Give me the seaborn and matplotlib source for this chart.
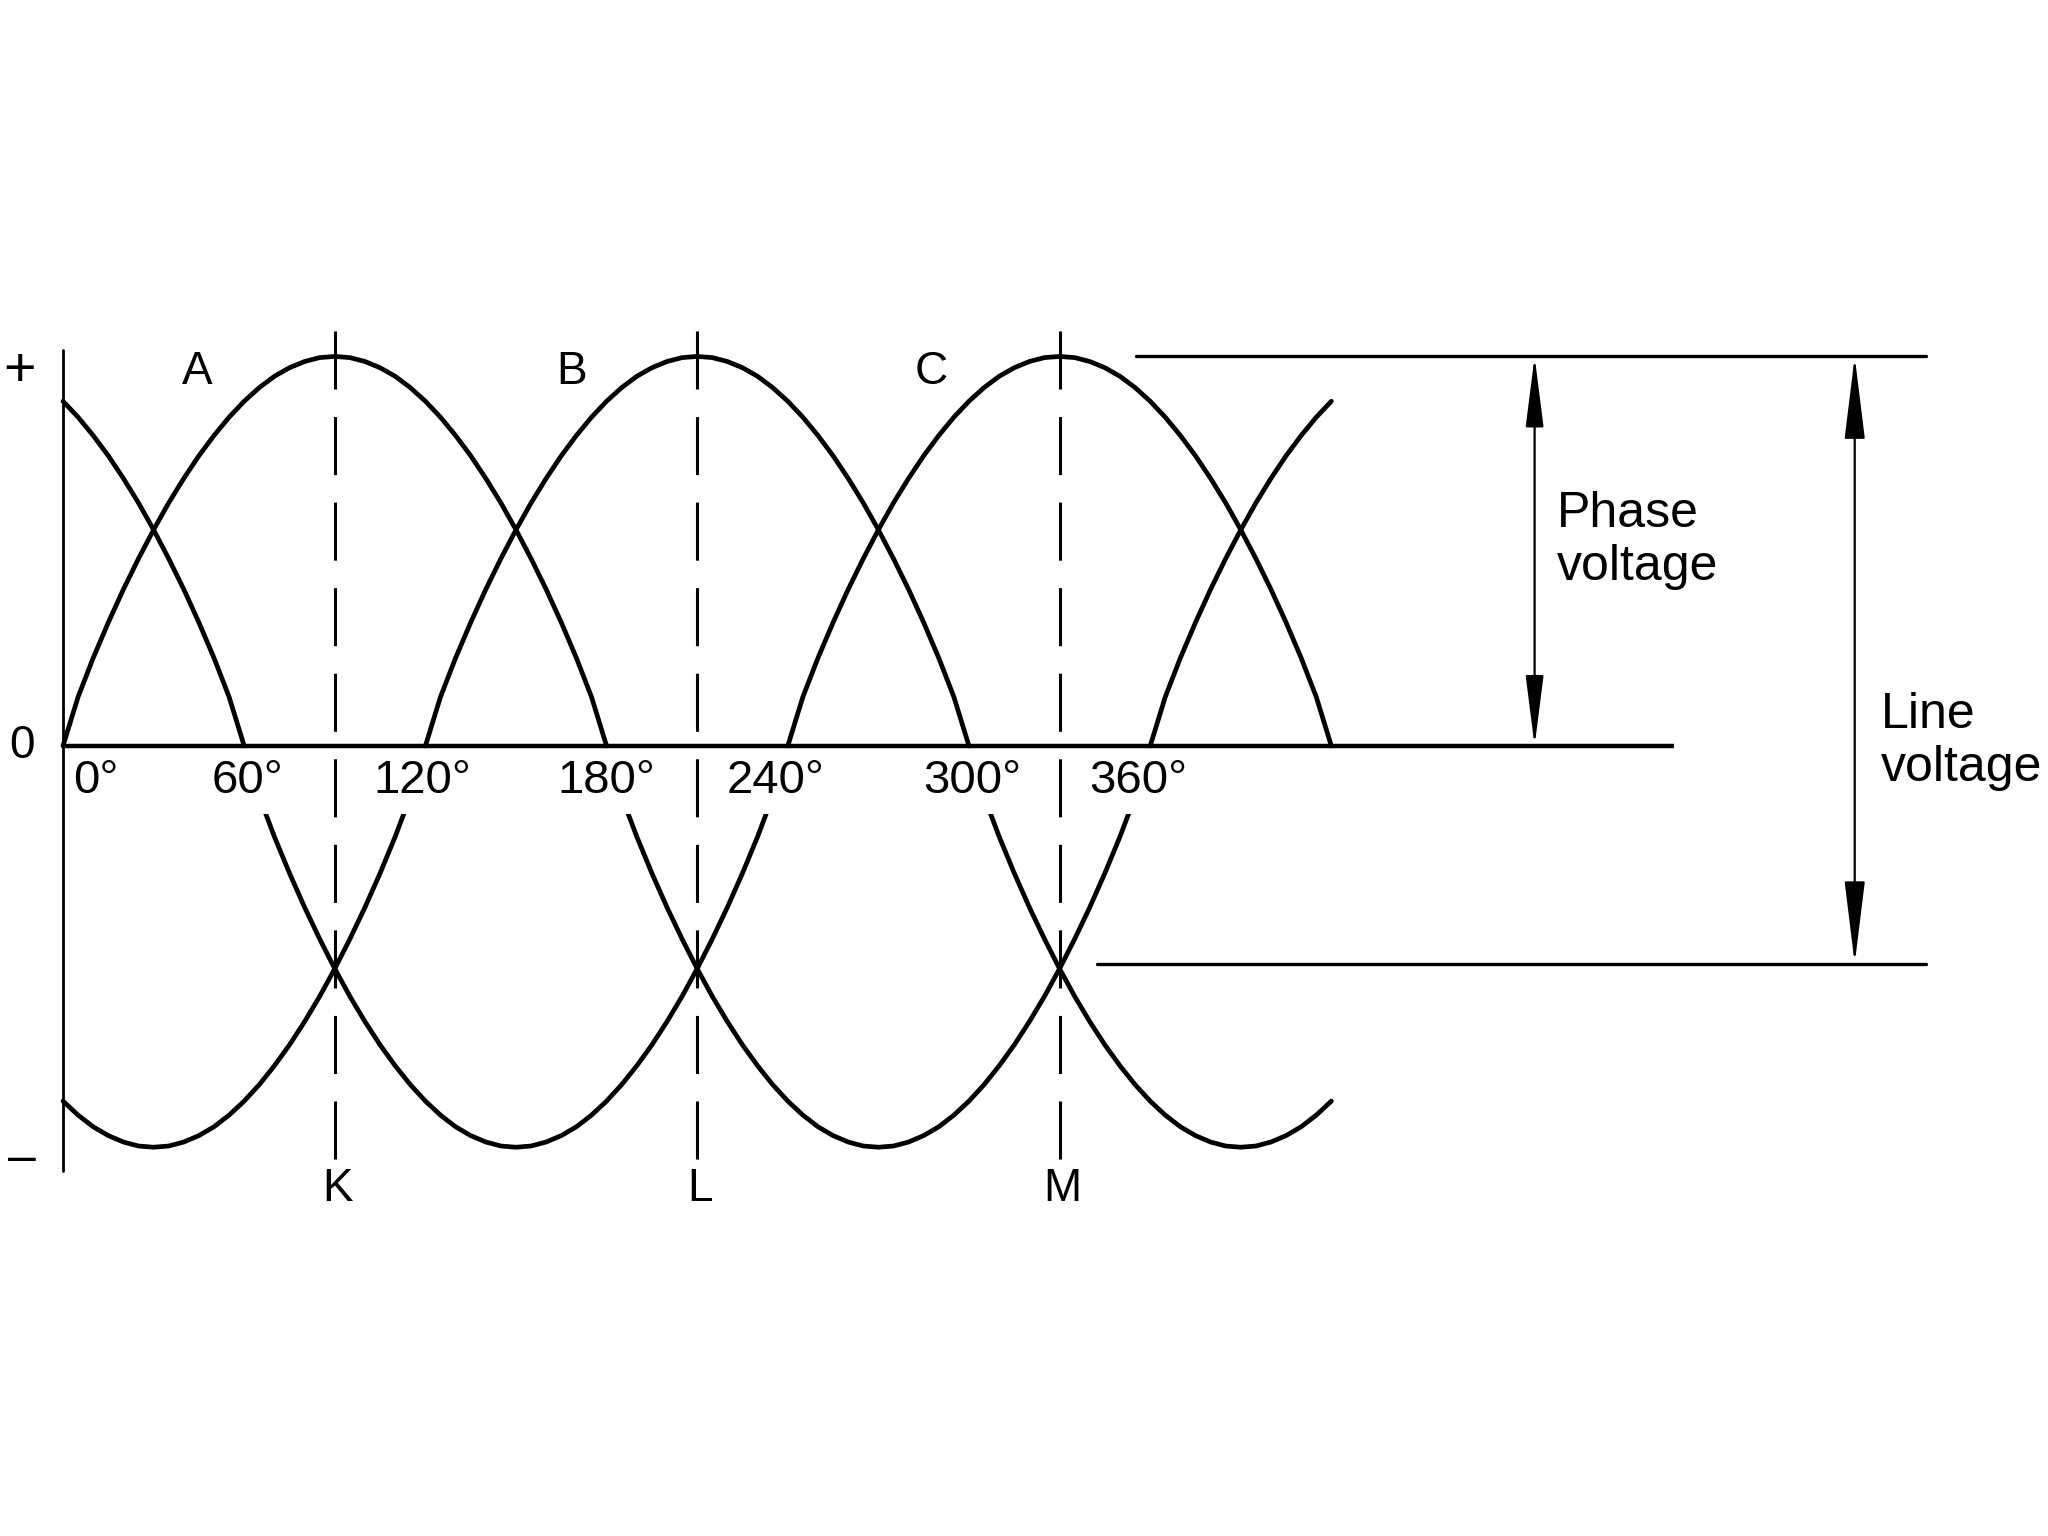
import numpy as np
import matplotlib.pyplot as plt
from matplotlib.patches import Rectangle
import seaborn as sns

# one half-wave as drawn in the figure: height at each angle (0..90 deg),
# the other half (90..180 deg) is the mirror image
half_wave_deg = [0, 5, 10, 15, 20, 25, 30, 35, 40, 45, 50, 55, 60, 65, 70, 75, 80, 85, 90]
half_wave_val = [0.0, 0.126, 0.226, 0.317, 0.402, 0.481, 0.555, 0.624, 0.687, 0.745,
                 0.797, 0.844, 0.885, 0.920, 0.949, 0.971, 0.987, 0.997, 1.0]

# positive half-waves (C, A, B, C, A): start of the half-wave, drawn range
upper_start = [-120, 0, 120, 240, 360]
upper_from = [0, 0, 120, 240, 360]
upper_to = [60, 180, 300, 420, 420]

# negative half-waves (B, C, A, B), drawn below
lower_start = [-60, 60, 180, 300]
lower_from = [0, 60, 180, 300]
lower_to = [120, 240, 360, 420]
lower_amp = 1.03

deg_ticks = [0, 60, 120, 180, 240, 300, 360]
deg_labels = ['0°', '60°', '120°', '180°', '240°', '300°', '360°']

phase_names = ['A', 'B', 'C']
crossing_names = ['K', 'L', 'M']
crossing_deg = [90, 210, 330]
line_level = -0.559

sns.set_theme(style='white')
plt.rcParams['font.family'] = ['Liberation Sans', 'DejaVu Sans']
plt.rcParams['text.color'] = 'black'

fig = plt.figure(figsize=(20.48, 15.36), dpi=100)
fig.patch.set_facecolor('white')
ax = fig.add_axes([0, 0, 1, 1])
ax.set_xlim(-20.86, 657.3)
ax.set_ylim(-2.028, 1.915)
ax.axis('off')

arch_deg = np.array(half_wave_deg + [180 - d for d in half_wave_deg[-2::-1]])
arch_val = np.array(half_wave_val + half_wave_val[-2::-1])

# upper waves
for s, a, b in zip(upper_start, upper_from, upper_to):
    x = s + arch_deg
    keep = (x >= a) & (x <= b)
    sns.lineplot(x=x[keep], y=arch_val[keep], ax=ax, color='black', linewidth=3.4,
                 estimator=None, sort=False)

# lower waves, cut off a little below the zero line
clip = Rectangle((-30, -3), 720, 3 - 0.175, transform=ax.transData)
for s, a, b in zip(lower_start, lower_from, lower_to):
    x = s + arch_deg
    keep = (x >= a) & (x <= b)
    sns.lineplot(x=x[keep], y=-lower_amp * arch_val[keep], ax=ax, color='black', linewidth=3.4,
                 estimator=None, sort=False)
    ax.lines[-1].set_clip_path(clip)

# axes lines
ax.plot([0, 533.6], [0, 0], color='black', lw=3.2, solid_capstyle='butt')
ax.plot([0, 0], [1.017, -1.091], color='black', lw=2)

# dashed lines through the peaks
for d in crossing_deg:
    ax.plot([d, d], [1.065, -1.093], color='black', lw=2.2, linestyle=(0, (19, 9)))

# reference lines on the right
ax.plot([355.4, 617], [1.0, 1.0], color='black', lw=2.4)
ax.plot([342.4, 617], [line_level, line_level], color='black', lw=2.4)

ax.annotate('', xy=(487.3, 1.0), xytext=(487.3, 0.0),
            arrowprops=dict(arrowstyle='<|-|>,head_length=2.2,head_width=0.28',
                            mutation_scale=20, lw=1.6, color='black',
                            shrinkA=0, shrinkB=0))
ax.annotate('', xy=(593.3, 1.0), xytext=(593.3, line_level),
            arrowprops=dict(arrowstyle='<|-|>,head_length=2.6,head_width=0.32',
                            mutation_scale=20, lw=1.6, color='black',
                            shrinkA=0, shrinkB=0))

ax.text(494.7, 0.527, 'Phase\nvoltage', fontsize=36, ha='left', va='center', linespacing=1.2)
ax.text(602, 0.012, 'Line\nvoltage', fontsize=36, ha='left', va='center', linespacing=1.2)

# labels under the zero line
label_shift = [11, 1, -1, 0, -4, 1, -4]
for d, lab, sh in zip(deg_ticks, deg_labels, label_shift):
    ax.text(d + sh, -0.09, lab, fontsize=34, ha='center', va='center')

for xpos, name in zip([44.4, 168.5, 287.5], phase_names):
    ax.text(xpos, 0.96, name, fontsize=33, ha='center', va='center')

for d, name in zip(crossing_deg, crossing_names):
    ax.text(d + 1, -1.136, name, fontsize=33, ha='center', va='center')

ax.text(-14.4, 0.96, '+', fontsize=40, ha='center', va='center')
ax.text(-13.6, 0.0, '0', fontsize=33, ha='center', va='center')
ax.text(-13.6, -1.059, '–', fontsize=36, ha='center', va='center')

fig.savefig('out.png', dpi=100, facecolor='white')
plt.close(fig)
